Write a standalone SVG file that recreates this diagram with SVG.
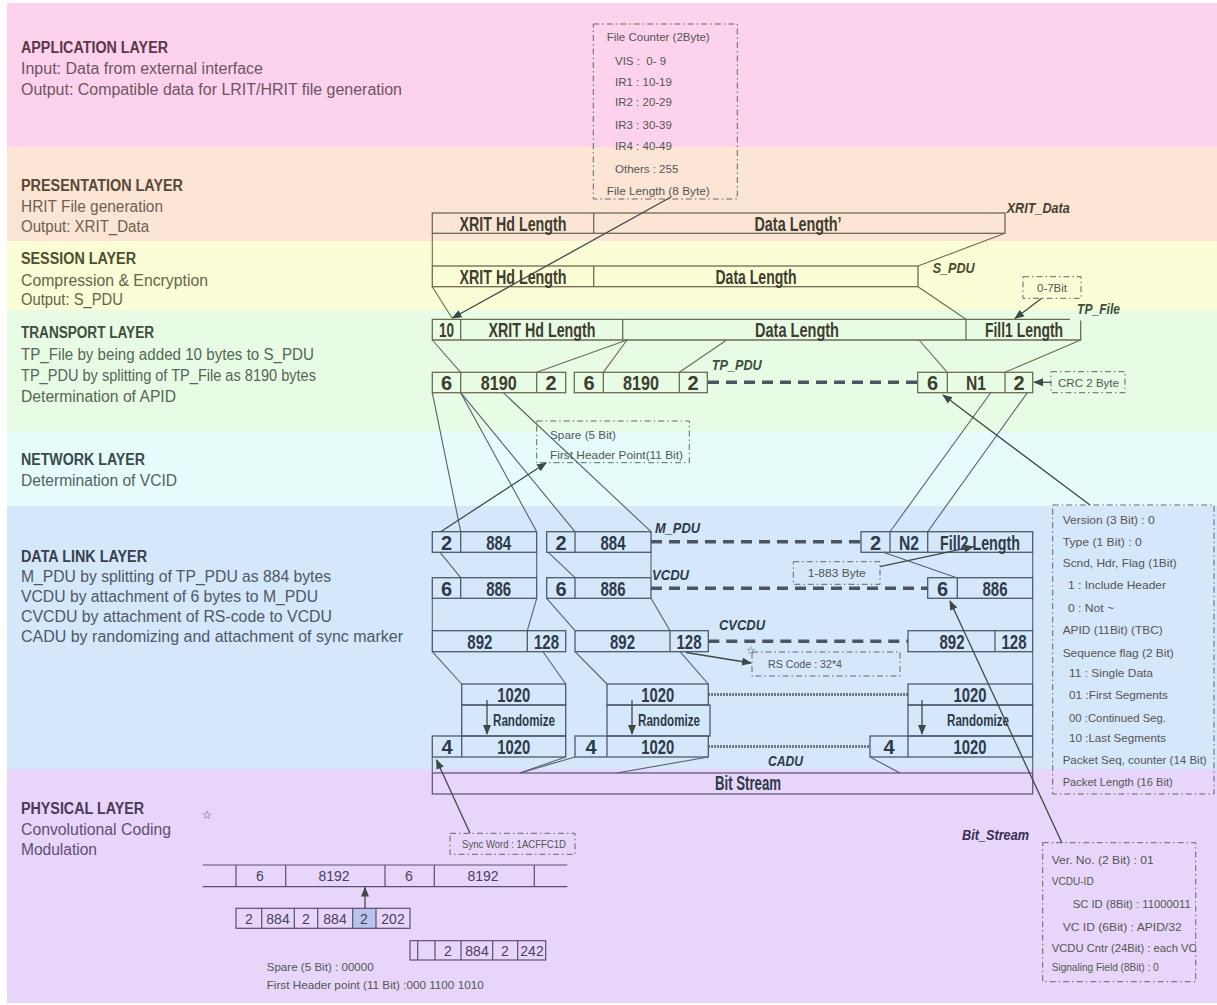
<svg xmlns="http://www.w3.org/2000/svg" width="1217" height="1005" viewBox="0 0 1217 1005">
<defs>
<style>
.t{font-family:'Liberation Sans Narrow','Liberation Sans',Arial,sans-serif;font-weight:bold;font-size:16px}
.b{font-family:'Liberation Sans',Arial,sans-serif;font-size:16px}
.bx{font-family:'Liberation Sans Narrow','Liberation Sans',Arial,sans-serif;font-weight:bold;font-size:20px;text-anchor:middle;fill:#3e3e2e}
.bxd{font-family:'Liberation Sans Narrow','Liberation Sans',Arial,sans-serif;font-weight:bold;font-size:20px;text-anchor:middle;fill:#2e3a4a}
.rz{font-family:'Liberation Sans Narrow','Liberation Sans',Arial,sans-serif;font-weight:bold;font-size:16px;text-anchor:middle;fill:#2e3a4a}
.lb{font-family:'Liberation Sans Narrow','Liberation Sans',Arial,sans-serif;font-weight:bold;font-style:italic;font-size:15px}
.sm{font-family:'Liberation Sans',Arial,sans-serif;font-size:11.5px;fill:#555555;white-space:pre}
.ph{font-family:'Liberation Sans',Arial,sans-serif;font-size:14px;fill:#4a4060;text-anchor:middle}
.box{fill:none;stroke:#6e6a52;stroke-width:1.3}
.boxd{fill:none;stroke:#4e5a6a;stroke-width:1.3}
.boxp{fill:none;stroke:#5a5070;stroke-width:1.2}
.ln{fill:none;stroke:#6e6a52;stroke-width:1.1}
.lnd{fill:none;stroke:#56606e;stroke-width:1.1}
.ar{fill:none;stroke:#3e4a48;stroke-width:1.3;marker-end:url(#ah)}
.dash{fill:none;stroke:#4c5662;stroke-width:3.5;stroke-dasharray:11 7}
.dot{fill:none;stroke:#4c5662;stroke-width:3;stroke-dasharray:1.5 1.5}
.dd{fill:none;stroke:#666666;stroke-width:1;stroke-dasharray:6 3 1.5 3}
</style>
<marker id="ah" viewBox="0 0 10 10" refX="9" refY="5" markerWidth="10" markerHeight="10" markerUnits="userSpaceOnUse" orient="auto"><path d="M0,1 L10,5 L0,9 z" fill="#3e4a48"/></marker>
</defs>

<g id="bands">
<rect x="7" y="3" width="1210" height="144" fill="#FDD2EC"/>
<rect x="7" y="147" width="1210" height="94" fill="#FDE5D6"/>
<rect x="7" y="241" width="1210" height="69" fill="#FBFDD6"/>
<rect x="7" y="310" width="1210" height="122" fill="#E8FCE5"/>
<rect x="7" y="432" width="1210" height="74" fill="#E5FCFB"/>
<rect x="7" y="506" width="1210" height="263" fill="#D5E7FB"/>
<rect x="7" y="769" width="1210" height="234" fill="#E8D5FA"/>
</g>

<g id="layer-labels">
<text class="t" x="21" y="53" fill="#5a3848" textLength="147" lengthAdjust="spacingAndGlyphs">APPLICATION LAYER</text>
<text class="b" x="21" y="73.5" fill="#6e5563" textLength="242" lengthAdjust="spacingAndGlyphs">Input: Data from external interface</text>
<text class="b" x="21" y="94.5" fill="#6e5563" textLength="381" lengthAdjust="spacingAndGlyphs">Output: Compatible data for LRIT/HRIT file generation</text>
<text class="t" x="21" y="191" fill="#5a4838" textLength="162" lengthAdjust="spacingAndGlyphs">PRESENTATION LAYER</text>
<text class="b" x="21" y="212" fill="#6e6050" textLength="142" lengthAdjust="spacingAndGlyphs">HRIT File generation</text>
<text class="b" x="21" y="232" fill="#6e6050" textLength="128" lengthAdjust="spacingAndGlyphs">Output: XRIT_Data</text>
<text class="t" x="21" y="263.5" fill="#4e4e30" textLength="115" lengthAdjust="spacingAndGlyphs">SESSION LAYER</text>
<text class="b" x="21" y="286" fill="#64644a" textLength="187" lengthAdjust="spacingAndGlyphs">Compression &amp; Encryption</text>
<text class="b" x="21" y="305" fill="#64644a" textLength="102" lengthAdjust="spacingAndGlyphs">Output: S_PDU</text>
<text class="t" x="21" y="338" fill="#3e4e3e" textLength="133" lengthAdjust="spacingAndGlyphs">TRANSPORT LAYER</text>
<text class="b" x="21" y="360" fill="#566656" textLength="293" lengthAdjust="spacingAndGlyphs">TP_File by being added 10 bytes to S_PDU</text>
<text class="b" x="21" y="381" fill="#566656" textLength="295" lengthAdjust="spacingAndGlyphs">TP_PDU by splitting of TP_File as 8190 bytes</text>
<text class="b" x="21" y="402" fill="#566656" textLength="155" lengthAdjust="spacingAndGlyphs">Determination of APID</text>
<text class="t" x="21" y="465" fill="#3a4a4a" textLength="124" lengthAdjust="spacingAndGlyphs">NETWORK LAYER</text>
<text class="b" x="21" y="486" fill="#526262" textLength="156" lengthAdjust="spacingAndGlyphs">Determination of VCID</text>
<text class="t" x="21" y="562" fill="#38404e" textLength="126" lengthAdjust="spacingAndGlyphs">DATA LINK LAYER</text>
<text class="b" x="21" y="582" fill="#4e5868" textLength="310" lengthAdjust="spacingAndGlyphs">M_PDU by splitting of TP_PDU as 884 bytes</text>
<text class="b" x="21" y="602" fill="#4e5868" textLength="297" lengthAdjust="spacingAndGlyphs">VCDU by attachment of 6 bytes to M_PDU</text>
<text class="b" x="21" y="622" fill="#4e5868" textLength="311" lengthAdjust="spacingAndGlyphs">CVCDU by attachment of RS-code to VCDU</text>
<text class="b" x="21" y="642" fill="#4e5868" textLength="382" lengthAdjust="spacingAndGlyphs">CADU by randomizing and attachment of sync marker</text>
<text class="t" x="21" y="814" fill="#4a3a58" textLength="123" lengthAdjust="spacingAndGlyphs">PHYSICAL LAYER</text>
<text class="b" x="21" y="835" fill="#5e5070" textLength="150" lengthAdjust="spacingAndGlyphs">Convolutional Coding</text>
<text class="b" x="21" y="855" fill="#5e5070" textLength="76" lengthAdjust="spacingAndGlyphs">Modulation</text>
<text x="207" y="819" font-family="'DejaVu Sans',sans-serif" font-size="12" fill="#5a4a6a" text-anchor="middle">☆</text>
</g>

<g id="file-counter-note">
<rect class="dd" x="593.3" y="24" width="144" height="175"/>
<text class="sm" x="606.7" y="41" textLength="103" lengthAdjust="spacingAndGlyphs">File Counter (2Byte)</text>
<text class="sm" x="615" y="65">VIS :  0- 9</text>
<text class="sm" x="615" y="85.5">IR1 : 10-19</text>
<text class="sm" x="615" y="106">IR2 : 20-29</text>
<text class="sm" x="615" y="128.5">IR3 : 30-39</text>
<text class="sm" x="615" y="149.5">IR4 : 40-49</text>
<text class="sm" x="615" y="172.5">Others : 255</text>
<text class="sm" x="606.7" y="195" textLength="103" lengthAdjust="spacingAndGlyphs">File Length (8 Byte)</text>
</g>

<g id="xrit-data">
<rect class="box" x="432.3" y="213" width="572.7" height="20.3"/>
<line class="box" x1="593.7" y1="213" x2="593.7" y2="233.3"/>
<text class="bx" x="513" y="230.7" textLength="107" lengthAdjust="spacingAndGlyphs">XRIT Hd Length</text>
<text class="bx" x="798" y="230.7" textLength="87" lengthAdjust="spacingAndGlyphs">Data Length’</text>
<text class="lb" x="1006.7" y="213" fill="#4a4030" textLength="63" lengthAdjust="spacingAndGlyphs">XRIT_Data</text>
</g>

<g id="s-pdu">
<rect class="box" x="432.3" y="266" width="485.7" height="20.7"/>
<line class="box" x1="593.7" y1="266" x2="593.7" y2="286.7"/>
<text class="bx" x="513" y="284" textLength="107" lengthAdjust="spacingAndGlyphs">XRIT Hd Length</text>
<text class="bx" x="756" y="284" textLength="81" lengthAdjust="spacingAndGlyphs">Data Length</text>
<text class="lb" x="932.7" y="272.5" fill="#4a4a30" textLength="42" lengthAdjust="spacingAndGlyphs">S_PDU</text>
</g>

<g id="tp-file">
<path class="box" d="M1070,319.3 H432.3 V340 H1080.7 V320.5"/>
<line class="box" x1="460.7" y1="319.3" x2="460.7" y2="340"/>
<line class="box" x1="622.7" y1="319.3" x2="622.7" y2="340"/>
<line class="box" x1="966" y1="319.3" x2="966" y2="340"/>
<text class="bx" x="446.5" y="337" textLength="15" lengthAdjust="spacingAndGlyphs">10</text>
<text class="bx" x="542" y="337" textLength="107" lengthAdjust="spacingAndGlyphs">XRIT Hd Length</text>
<text class="bx" x="797" y="337" textLength="84" lengthAdjust="spacingAndGlyphs">Data Length</text>
<text class="bx" x="1024" y="337" textLength="78" lengthAdjust="spacingAndGlyphs">Fill1 Length</text>
<text class="lb" x="1077" y="314" fill="#3e4e3e" textLength="43" lengthAdjust="spacingAndGlyphs">TP_File</text>
</g>

<g id="bit-note">
<rect class="dd" x="1023" y="276.7" width="58" height="21.6"/>
<text class="sm" x="1052" y="291.5" text-anchor="middle" font-size="10.5" textLength="30" lengthAdjust="spacingAndGlyphs">0-7Bit</text>
</g>

<g id="tp-pdu">
<rect class="box" x="432.3" y="372.3" width="133.4" height="20.4"/>
<line class="box" x1="460.7" y1="372.3" x2="460.7" y2="392.7"/>
<line class="box" x1="536.7" y1="372.3" x2="536.7" y2="392.7"/>
<rect class="box" x="574.3" y="372.3" width="133" height="20.4"/>
<line class="box" x1="603.3" y1="372.3" x2="603.3" y2="392.7"/>
<line class="box" x1="679.3" y1="372.3" x2="679.3" y2="392.7"/>
<rect class="box" x="917.7" y="372.3" width="115" height="20.4"/>
<line class="box" x1="947.3" y1="372.3" x2="947.3" y2="392.7"/>
<line class="box" x1="1005" y1="372.3" x2="1005" y2="392.7"/>
<text class="bx" x="446.5" y="390">6</text>
<text class="bx" x="498.7" y="390" textLength="36" lengthAdjust="spacingAndGlyphs">8190</text>
<text class="bx" x="551" y="390">2</text>
<text class="bx" x="589" y="390">6</text>
<text class="bx" x="641" y="390" textLength="36" lengthAdjust="spacingAndGlyphs">8190</text>
<text class="bx" x="693" y="390">2</text>
<text class="bx" x="932.5" y="390">6</text>
<text class="bx" x="976" y="390" textLength="20" lengthAdjust="spacingAndGlyphs">N1</text>
<text class="bx" x="1019" y="390">2</text>
<text class="lb" x="711.7" y="370" fill="#3e4e3e" textLength="50" lengthAdjust="spacingAndGlyphs">TP_PDU</text>
</g>

<g id="crc-note">
<rect class="dd" x="1051" y="371.7" width="74" height="21"/>
<text class="sm" x="1058" y="386.5" textLength="61" lengthAdjust="spacingAndGlyphs">CRC 2 Byte</text>
</g>

<g id="spare-note">
<rect class="dd" x="536.7" y="421" width="152.6" height="41.7"/>
<text class="sm" x="550" y="439" textLength="66" lengthAdjust="spacingAndGlyphs">Spare (5 Bit)</text>
<text class="sm" x="550" y="459" textLength="133" lengthAdjust="spacingAndGlyphs">First Header Point(11 Bit)</text>
</g>

<g id="m-pdu">
<rect class="boxd" x="432.3" y="531.7" width="104.4" height="20.6"/>
<line class="boxd" x1="460.7" y1="531.7" x2="460.7" y2="552.3"/>
<rect class="boxd" x="546.7" y="531.7" width="104.3" height="20.6"/>
<line class="boxd" x1="575" y1="531.7" x2="575" y2="552.3"/>
<rect class="boxd" x="861" y="531.7" width="171.7" height="20.6"/>
<line class="boxd" x1="890" y1="531.7" x2="890" y2="552.3"/>
<line class="boxd" x1="927.7" y1="531.7" x2="927.7" y2="552.3"/>
<text class="bxd" x="446.5" y="549.5">2</text>
<text class="bxd" x="498.7" y="549.5" textLength="25" lengthAdjust="spacingAndGlyphs">884</text>
<text class="bxd" x="561" y="549.5">2</text>
<text class="bxd" x="613" y="549.5" textLength="25" lengthAdjust="spacingAndGlyphs">884</text>
<text class="bxd" x="875.5" y="549.5">2</text>
<text class="bxd" x="909" y="549.5" textLength="20" lengthAdjust="spacingAndGlyphs">N2</text>
<text class="bxd" x="980" y="549.5" textLength="80" lengthAdjust="spacingAndGlyphs">Fill2 Length</text>
<text class="lb" x="655" y="533" fill="#2e3a4a" textLength="45" lengthAdjust="spacingAndGlyphs">M_PDU</text>
</g>

<g id="vcdu">
<rect class="boxd" x="432.3" y="577.7" width="104.4" height="20.6"/>
<line class="boxd" x1="460.7" y1="577.7" x2="460.7" y2="598.3"/>
<rect class="boxd" x="546.7" y="577.7" width="104.3" height="20.6"/>
<line class="boxd" x1="575" y1="577.7" x2="575" y2="598.3"/>
<rect class="boxd" x="927.7" y="577.7" width="105" height="20.6"/>
<line class="boxd" x1="957.3" y1="577.7" x2="957.3" y2="598.3"/>
<text class="bxd" x="446.5" y="595.5">6</text>
<text class="bxd" x="498.7" y="595.5" textLength="25" lengthAdjust="spacingAndGlyphs">886</text>
<text class="bxd" x="561" y="595.5">6</text>
<text class="bxd" x="613" y="595.5" textLength="25" lengthAdjust="spacingAndGlyphs">886</text>
<text class="bxd" x="942.5" y="595.5">6</text>
<text class="bxd" x="995" y="595.5" textLength="25" lengthAdjust="spacingAndGlyphs">886</text>
<text class="lb" x="652" y="580" fill="#2e3a4a" textLength="37" lengthAdjust="spacingAndGlyphs">VCDU</text>
</g>

<g id="range-note">
<rect class="dd" x="793.3" y="561.7" width="86.7" height="22.6"/>
<text class="sm" x="836.7" y="577" text-anchor="middle" textLength="58" lengthAdjust="spacingAndGlyphs">1-883 Byte</text>
</g>

<g id="cvcdu">
<rect class="boxd" x="432.3" y="630.7" width="133.4" height="21"/>
<line class="boxd" x1="527.3" y1="630.7" x2="527.3" y2="651.7"/>
<rect class="boxd" x="575" y="630.7" width="133.3" height="21"/>
<line class="boxd" x1="670" y1="630.7" x2="670" y2="651.7"/>
<rect class="boxd" x="908" y="630.7" width="124.7" height="21"/>
<line class="boxd" x1="995" y1="630.7" x2="995" y2="651.7"/>
<text class="bxd" x="479.8" y="648.5" textLength="25" lengthAdjust="spacingAndGlyphs">892</text>
<text class="bxd" x="546.5" y="648.5" textLength="25" lengthAdjust="spacingAndGlyphs">128</text>
<text class="bxd" x="622.5" y="648.5" textLength="25" lengthAdjust="spacingAndGlyphs">892</text>
<text class="bxd" x="689" y="648.5" textLength="25" lengthAdjust="spacingAndGlyphs">128</text>
<text class="bxd" x="952" y="648.5" textLength="25" lengthAdjust="spacingAndGlyphs">892</text>
<text class="bxd" x="1014" y="648.5" textLength="25" lengthAdjust="spacingAndGlyphs">128</text>
<text class="lb" x="719" y="630" fill="#2e3a4a" textLength="46" lengthAdjust="spacingAndGlyphs">CVCDU</text>
</g>

<g id="rs-note">
<rect class="dd" x="752" y="652" width="148" height="24"/>
<text class="sm" x="768" y="668" textLength="74" lengthAdjust="spacingAndGlyphs">RS Code : 32*4</text>
<text x="751" y="654" font-family="'DejaVu Sans',sans-serif" font-size="11" fill="#666" text-anchor="middle">☆</text>
</g>

<g id="randomize">
<rect class="boxd" x="461.7" y="684" width="104" height="21"/>
<rect class="boxd" x="461.7" y="705" width="104" height="31"/>
<text class="bxd" x="513.7" y="702" textLength="33" lengthAdjust="spacingAndGlyphs">1020</text>
<text class="rz" x="524" y="726" textLength="62" lengthAdjust="spacingAndGlyphs">Randomize</text>
<rect class="boxd" x="607" y="684" width="101.3" height="21"/>
<rect class="boxd" x="607" y="705" width="103" height="31"/>
<text class="bxd" x="657.7" y="702" textLength="33" lengthAdjust="spacingAndGlyphs">1020</text>
<text class="rz" x="669" y="726" textLength="62" lengthAdjust="spacingAndGlyphs">Randomize</text>
<rect class="boxd" x="908" y="684" width="124.7" height="21"/>
<rect class="boxd" x="908" y="705" width="124.7" height="31"/>
<text class="bxd" x="970" y="702" textLength="33" lengthAdjust="spacingAndGlyphs">1020</text>
<text class="rz" x="978" y="726" textLength="62" lengthAdjust="spacingAndGlyphs">Randomize</text>
</g>

<g id="cadu">
<rect class="boxd" x="432.3" y="736" width="133.4" height="21"/>
<line class="boxd" x1="461.7" y1="736" x2="461.7" y2="757"/>
<rect class="boxd" x="575" y="736" width="133.3" height="21"/>
<line class="boxd" x1="607" y1="736" x2="607" y2="757"/>
<rect class="boxd" x="870" y="736" width="162.7" height="21"/>
<line class="boxd" x1="908" y1="736" x2="908" y2="757"/>
<text class="bxd" x="447" y="754">4</text>
<text class="bxd" x="513.7" y="754" textLength="33" lengthAdjust="spacingAndGlyphs">1020</text>
<text class="bxd" x="591" y="754">4</text>
<text class="bxd" x="657.7" y="754" textLength="33" lengthAdjust="spacingAndGlyphs">1020</text>
<text class="bxd" x="889" y="754">4</text>
<text class="bxd" x="970" y="754" textLength="33" lengthAdjust="spacingAndGlyphs">1020</text>
<text class="lb" x="768" y="766" fill="#2e3a4a" textLength="35" lengthAdjust="spacingAndGlyphs">CADU</text>
</g>

<g id="bit-stream">
<rect class="boxp" x="432.3" y="773" width="600.4" height="21"/>
<text class="bxd" x="748" y="790" font-size="17" fill="#3a3050" textLength="66" lengthAdjust="spacingAndGlyphs">Bit Stream</text>
<text class="lb" x="962" y="840" fill="#3a2e50" textLength="67" lengthAdjust="spacingAndGlyphs">Bit_Stream</text>
</g>

<g id="sync-note">
<rect class="dd" x="450" y="833.3" width="125" height="21"/>
<text class="sm" x="462" y="848" textLength="104" lengthAdjust="spacingAndGlyphs">Sync Word : 1ACFFC1D</text>
</g>

<g id="tp-header-note">
<rect class="dd" x="1052.7" y="505" width="161.3" height="289"/>
<text class="sm" x="1062.7" y="524" textLength="92" lengthAdjust="spacingAndGlyphs">Version (3 Bit) : 0</text>
<text class="sm" x="1062.7" y="545.7" textLength="79" lengthAdjust="spacingAndGlyphs">Type (1 Bit) : 0</text>
<text class="sm" x="1062.7" y="566.7" textLength="114" lengthAdjust="spacingAndGlyphs">Scnd, Hdr, Flag (1Bit)</text>
<text class="sm" x="1068" y="589" textLength="98" lengthAdjust="spacingAndGlyphs">1 : Include Header</text>
<text class="sm" x="1068" y="612.3" textLength="46" lengthAdjust="spacingAndGlyphs">0 : Not ~</text>
<text class="sm" x="1062.7" y="634" textLength="100" lengthAdjust="spacingAndGlyphs">APID (11Bit) (TBC)</text>
<text class="sm" x="1062.7" y="656.7" textLength="111" lengthAdjust="spacingAndGlyphs">Sequence flag (2 Bit)</text>
<text class="sm" x="1069" y="677.3" textLength="84" lengthAdjust="spacingAndGlyphs">11 : Single Data</text>
<text class="sm" x="1069" y="699" textLength="99" lengthAdjust="spacingAndGlyphs">01 :First Segments</text>
<text class="sm" x="1069" y="721.7" textLength="97" lengthAdjust="spacingAndGlyphs">00 :Continued Seg.</text>
<text class="sm" x="1069" y="742.3" textLength="97" lengthAdjust="spacingAndGlyphs">10 :Last Segments</text>
<text class="sm" x="1062.7" y="764" textLength="144" lengthAdjust="spacingAndGlyphs">Packet Seq, counter (14 Bit)</text>
<text class="sm" x="1062.7" y="786" textLength="110" lengthAdjust="spacingAndGlyphs">Packet Length (16 Bit)</text>
</g>

<g id="vcdu-header-note">
<rect class="dd" x="1042.7" y="842.7" width="153" height="139"/>
<text class="sm" x="1051.7" y="864" textLength="102" lengthAdjust="spacingAndGlyphs">Ver. No. (2 Bit) : 01</text>
<text class="sm" x="1051.7" y="885" textLength="42" lengthAdjust="spacingAndGlyphs">VCDU-ID</text>
<text class="sm" x="1072.7" y="907.5" textLength="118" lengthAdjust="spacingAndGlyphs">SC ID (8Bit) : 11000011</text>
<text class="sm" x="1062.7" y="930.5" textLength="119" lengthAdjust="spacingAndGlyphs">VC ID (6Bit) : APID/32</text>
<text class="sm" x="1051.7" y="952" textLength="145" lengthAdjust="spacingAndGlyphs">VCDU Cntr (24Bit) : each VC</text>
<text class="sm" x="1051.7" y="971" textLength="107" lengthAdjust="spacingAndGlyphs">Signaling Field (8Bit) : 0</text>
</g>

<g id="phys-frame-row">
<path class="boxp" d="M202.7,865 H567.3 M202.7,886.7 H567.3 M236,865 V886.7 M285.7,865 V886.7 M385,865 V886.7 M434.3,865 V886.7 M534.3,865 V886.7"/>
<text class="ph" x="260" y="881">6</text>
<text class="ph" x="334" y="881">8192</text>
<text class="ph" x="409" y="881">6</text>
<text class="ph" x="483" y="881">8192</text>
</g>

<g id="phys-mpdu-row1">
<rect x="352.7" y="908.3" width="23.3" height="20" fill="#B8C4EC"/>
<rect class="boxp" x="236" y="908.3" width="174" height="20"/>
<path class="boxp" d="M261.7,908.3 V928.3 M294.3,908.3 V928.3 M317.7,908.3 V928.3 M352.7,908.3 V928.3 M376,908.3 V928.3"/>
<text class="ph" x="249" y="923.5">2</text>
<text class="ph" x="278" y="923.5">884</text>
<text class="ph" x="306" y="923.5">2</text>
<text class="ph" x="335" y="923.5">884</text>
<text class="ph" x="364" y="923.5">2</text>
<text class="ph" x="393" y="923.5">202</text>
</g>

<g id="phys-mpdu-row2">
<rect class="boxp" x="410" y="940.7" width="135.7" height="19.3"/>
<path class="boxp" d="M417.7,940.7 V960 M435,940.7 V960 M461,940.7 V960 M492.7,940.7 V960 M517.7,940.7 V960"/>
<text class="ph" x="448" y="955.5">2</text>
<text class="ph" x="477" y="955.5">884</text>
<text class="ph" x="505" y="955.5">2</text>
<text class="ph" x="532" y="955.5">242</text>
</g>

<g id="phys-notes">
<text class="sm" x="266.7" y="971" fill="#4a4060" textLength="107" lengthAdjust="spacingAndGlyphs">Spare (5 Bit) : 00000</text>
<text class="sm" x="266.7" y="989" fill="#4a4060" textLength="217" lengthAdjust="spacingAndGlyphs">First Header point (11 Bit) :000 1100 1010</text>
</g>

<g id="connectors">
<line class="ln" x1="432.3" y1="233.3" x2="432.3" y2="266"/>
<line class="ln" x1="1005" y1="233.3" x2="918" y2="266"/>
<line class="ln" x1="432.3" y1="286.7" x2="452" y2="318"/>
<line class="ln" x1="918" y1="286.7" x2="966" y2="319.3"/>
<line class="ar" x1="671" y1="197" x2="452.5" y2="318"/>
<line class="ar" x1="1041.7" y1="298.3" x2="1015" y2="318.5"/>
<line class="ln" x1="432.3" y1="340" x2="460.7" y2="372.3"/>
<line class="ln" x1="627" y1="340" x2="536.7" y2="372.3"/>
<line class="ln" x1="627" y1="340" x2="603.3" y2="372.3"/>
<line class="ln" x1="726.7" y1="340" x2="679.3" y2="372.3"/>
<line class="ln" x1="919" y1="340" x2="947.3" y2="372.3"/>
<line class="ln" x1="1080.7" y1="340" x2="1005" y2="372.3"/>
<line class="dash" x1="708" y1="382.3" x2="917" y2="382.3"/>
<line class="ar" x1="1051" y1="382.3" x2="1034" y2="382.3"/>
<line class="lnd" x1="432.3" y1="392.7" x2="460.7" y2="531.7"/>
<line class="lnd" x1="460.7" y1="392.7" x2="536.7" y2="531.7"/>
<line class="lnd" x1="460.7" y1="392.7" x2="575" y2="531.7"/>
<line class="lnd" x1="503.3" y1="392.7" x2="651" y2="531.7"/>
<line class="ar" x1="440.7" y1="531.7" x2="546" y2="463"/>
<line class="lnd" x1="990.7" y1="392.7" x2="890" y2="531.7"/>
<line class="lnd" x1="1027.3" y1="392.7" x2="927.7" y2="531.7"/>
<line class="ar" x1="1090" y1="505" x2="943" y2="395"/>
<line class="dash" x1="651" y1="541.7" x2="861" y2="541.7"/>
<line class="dash" x1="651" y1="588.3" x2="927.7" y2="588.3"/>
<line class="dash" x1="708.3" y1="641.2" x2="908" y2="641.2"/>
<line class="dot" x1="708.3" y1="694.5" x2="908" y2="694.5"/>
<line class="dot" x1="708.3" y1="746.5" x2="870" y2="746.5"/>
<line class="lnd" x1="440" y1="552.3" x2="460.7" y2="577.7"/>
<line class="lnd" x1="548.3" y1="552.3" x2="575" y2="577.7"/>
<line class="lnd" x1="536.7" y1="552.3" x2="536.7" y2="577.7"/>
<line class="lnd" x1="651" y1="552.3" x2="651" y2="577.7"/>
<line class="lnd" x1="883.3" y1="552.3" x2="956.7" y2="577.7"/>
<line class="lnd" x1="1032.7" y1="552.3" x2="1032.7" y2="577.7"/>
<line class="ar" x1="880" y1="566.7" x2="973.3" y2="546.7"/>
<line class="lnd" x1="432.3" y1="598.3" x2="432.3" y2="630.7"/>
<line class="lnd" x1="536.7" y1="598.3" x2="527.3" y2="630.7"/>
<line class="lnd" x1="546.7" y1="598.3" x2="575" y2="630.7"/>
<line class="lnd" x1="651" y1="598.3" x2="670" y2="630.7"/>
<line class="lnd" x1="1032.7" y1="598.3" x2="1032.7" y2="630.7"/>
<line class="lnd" x1="432.3" y1="651.7" x2="461.7" y2="684"/>
<line class="lnd" x1="543" y1="651.7" x2="565.7" y2="684"/>
<line class="lnd" x1="575" y1="651.7" x2="607" y2="684"/>
<line class="lnd" x1="680" y1="651.7" x2="708.3" y2="684"/>
<line class="lnd" x1="1032.7" y1="651.7" x2="1032.7" y2="684"/>
<line class="ar" x1="686" y1="652.5" x2="751" y2="663"/>
<line class="ar" x1="487" y1="700" x2="487" y2="734"/>
<line class="ar" x1="632" y1="700" x2="632" y2="734"/>
<line class="ar" x1="922" y1="700" x2="922" y2="734"/>
<line class="lnd" x1="432.3" y1="757" x2="432.3" y2="773"/>
<line class="lnd" x1="565.7" y1="757" x2="520" y2="773"/>
<line class="lnd" x1="575" y1="757" x2="520" y2="773"/>
<line class="lnd" x1="708.3" y1="757" x2="617" y2="773"/>
<line class="lnd" x1="870" y1="757" x2="900" y2="773"/>
<line class="lnd" x1="1032.7" y1="757" x2="1032.7" y2="773"/>
<line class="ar" x1="470" y1="833.3" x2="436.5" y2="760"/>
<line class="ar" x1="1062" y1="843" x2="950" y2="601"/>
<line class="ar" x1="365" y1="908.3" x2="365" y2="887.5"/>
</g>
</svg>
